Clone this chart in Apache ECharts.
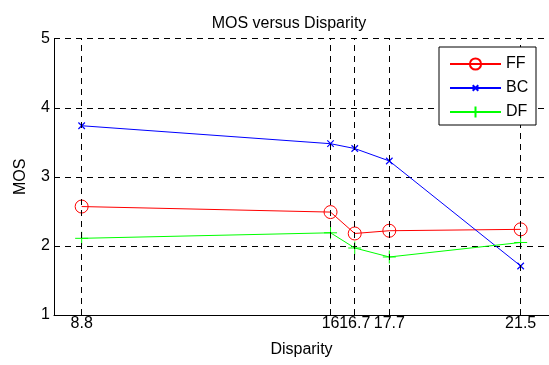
<!DOCTYPE html>
<html><head><meta charset="utf-8">
<script src="https://cdn.jsdelivr.net/npm/echarts@6/dist/echarts.min.js"></script>
<style>html,body{margin:0;padding:0;background:#fff}#c{width:549px;height:365px}</style>
</head><body><div id="c"></div>
<script>
var disparity = [8.8, 16, 16.7, 17.7, 21.5];
var ffValues = [2.57, 2.49, 2.18, 2.22, 2.24];
var bcValues = [3.74, 3.48, 3.41, 3.23, 1.71];
var dfValues = [2.11, 2.19, 1.97, 1.84, 2.05];
var xTickLabels = ['8.8', '16', '16.7', '17.7', '21.5'];
var yTicks = [1, 2, 3, 4, 5];

var font = 'Liberation Sans, Arial, sans-serif';
var chart = echarts.init(document.getElementById('c'), null, {renderer: 'canvas'});
function pairs(v){ return disparity.map(function(x,i){ return [x, v[i]]; }); }
var xPath = 'path://M0,0M10,10M2.5,2.5L7.5,7.5M7.5,2.5L2.5,7.5';
var plusPath = 'path://M5,0L5,10M0,5L10,5';
chart.setOption({
  animation: false,
  backgroundColor: '#fff',
  title: {text: 'MOS versus Disparity', left: 284, top: 11, textAlign: 'center',
    textStyle: {fontFamily: font, fontSize: 16, fontWeight: 'normal', color: '#000'}},
  grid: {left: 54, top: 38.7, right: 0, height: 276.3, containLabel: false},
  legend: {
    left: 439, top: 47, orient: 'vertical', itemWidth: 51, itemHeight: 14, itemGap: 8,
    padding: [9, 6, 5, 10], borderColor: '#000', borderWidth: 1, backgroundColor: '#fff',
    z: 20, zlevel: 1,
    textStyle: {fontFamily: font, fontSize: 16, color: '#000', width: 24, height: 14, lineHeight: 14, padding: 0},
    data: ['FF', 'BC', 'DF']
  },
  xAxis: {type: 'value', min: 8, max: 22.32,
    axisLine: {show: true, onZero: false, lineStyle: {color: '#000'}},
    axisTick: {show: true, inside: true, length: 5, customValues: disparity, lineStyle: {color: '#000'}},
    axisLabel: {customValues: disparity, formatter: function(v){ var i = disparity.indexOf(v); return i>=0 ? xTickLabels[i] : ''; },
      fontFamily: font, fontSize: 16, color: '#000', margin: 1},
    splitLine: {show: false},
    name: 'Disparity', nameLocation: 'middle', nameGap: 27,
    nameTextStyle: {fontFamily: font, fontSize: 16, color: '#000'}
  },
  yAxis: {type: 'value', min: 1, max: 5, interval: 1,
    axisLine: {show: true, onZero: false, lineStyle: {color: '#000'}},
    axisTick: {show: true, inside: true, length: 5, lineStyle: {color: '#000'}},
    axisLabel: {fontFamily: font, fontSize: 16, color: '#000', margin: 4},
    splitLine: {show: true, lineStyle: {color: '#000', type: [6, 5], width: 1}},
    name: 'MOS', nameLocation: 'middle', nameGap: 25, nameRotate: 90,
    nameTextStyle: {fontFamily: font, fontSize: 16, color: '#000'}
  },
  series: [
    {name: 'FF', type: 'line', data: pairs(ffValues), symbol: 'circle', symbolSize: 13,
      showAllSymbol: true,
      lineStyle: {color: '#ff0000', width: 1}, itemStyle: {color: 'rgba(0,0,0,0)', borderColor: '#ff0000', borderWidth: 1},
      markLine: {silent: true, symbol: 'none', label: {show: false},
        lineStyle: {color: '#000', type: [6, 5], width: 1},
        data: disparity.map(function(x){ return {xAxis: x}; })}, z: 3},
    {name: 'BC', type: 'line', data: pairs(bcValues), symbol: xPath, symbolSize: 13,
      lineStyle: {color: '#0000ff', width: 1}, itemStyle: {color: 'rgba(0,0,0,0)', borderColor: '#0000ff', borderWidth: 1.2}, z: 3},
    {name: 'DF', type: 'line', data: pairs(dfValues), symbol: plusPath, symbolSize: 13,
      lineStyle: {color: '#00ff00', width: 1}, itemStyle: {color: 'rgba(0,0,0,0)', borderColor: '#00ff00', borderWidth: 1}, z: 3}
  ]
});
</script></body></html>
